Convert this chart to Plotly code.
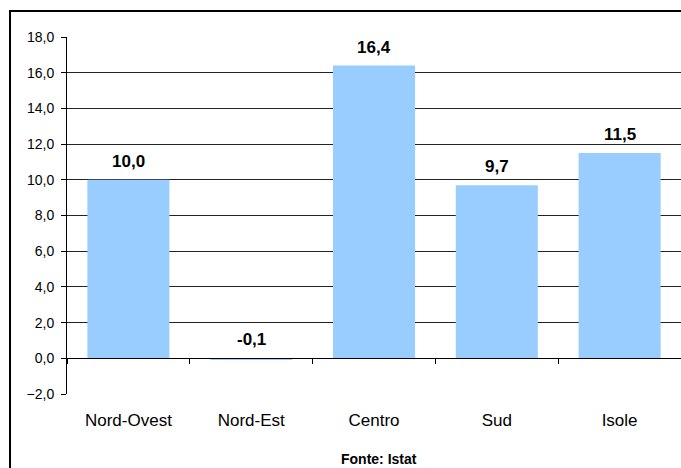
import plotly.graph_objects as go

categories = ["Nord-Ovest", "Nord-Est", "Centro", "Sud", "Isole"]
values = [10.0, -0.1, 16.4, 9.7, 11.5]
y_ticks = [-2, 0, 2, 4, 6, 8, 10, 12, 14, 16, 18]
source_text = "Fonte: Istat"

labels = [f"{v:.1f}".replace(".", ",") for v in values]
idx = list(range(len(categories)))
font = "Liberation Sans, Arial"

fig = go.Figure()
fig.add_trace(go.Bar(
    x=idx, y=values, width=0.668,
    marker=dict(color="#99CCFF", line=dict(width=0)),
    showlegend=False, hoverinfo="skip",
))
fig.add_trace(go.Scatter(x=[None], y=[None], xaxis="x2", showlegend=False))

annotations = [dict(
    x=i, y=max(v, 0), xref="x", yref="y", text="<b>" + t + "</b>",
    showarrow=False, yanchor="bottom", yshift=7,
    font=dict(family=font, size=17, color="#000"),
) for i, v, t in zip(idx, values, labels)]
annotations.append(dict(
    text="<b>" + source_text + "</b>", xref="paper", yref="paper",
    x=0.508, y=-0.209, showarrow=False,
    font=dict(family=font, size=14, color="#000"),
))

fig.update_layout(
    template="none",
    width=681, height=468,
    margin=dict(l=67, r=0, t=37, b=74, pad=0),
    paper_bgcolor="white", plot_bgcolor="white",
    separators=",.",
    xaxis=dict(
        range=[-0.5, 4.5], tickvals=idx, ticktext=categories,
        showgrid=False, zeroline=False, showline=False, ticks="",
        ticklabelstandoff=14, automargin=False,
        tickfont=dict(family=font, size=17, color="#000"),
    ),
    xaxis2=dict(
        overlaying="x", anchor="free", position=0.1,
        range=[-0.5, 4.5], tickvals=[-0.5, 0.5, 1.5, 2.5, 3.5, 4.5],
        showticklabels=False, ticks="outside", ticklen=5, tickcolor="#000",
        showline=True, linecolor="#000", linewidth=1,
        showgrid=False, zeroline=False, automargin=False,
    ),
    yaxis=dict(
        range=[-2, 18], tickvals=y_ticks, tickformat=".1f",
        showgrid=True, gridcolor="#222", gridwidth=1,
        zeroline=True, zerolinecolor="#000", zerolinewidth=1,
        showline=True, linecolor="#000", linewidth=1,
        ticks="outside", ticklen=5, tickcolor="#000",
        ticklabelstandoff=4, automargin=False,
        tickfont=dict(family=font, size=14, color="#000"),
    ),
    shapes=[dict(
        type="rect", xref="paper", yref="paper",
        x0=-0.0928, x1=1.2, y0=-0.3, y1=1.0728,
        line=dict(color="#000", width=2), fillcolor="rgba(0,0,0,0)",
        layer="above",
    )],
    annotations=annotations,
)

fig.write_html(
    "out.html",
    config={"displayModeBar": False},
    post_script="document.body.style.margin='0';document.body.style.overflow='hidden';",
)
